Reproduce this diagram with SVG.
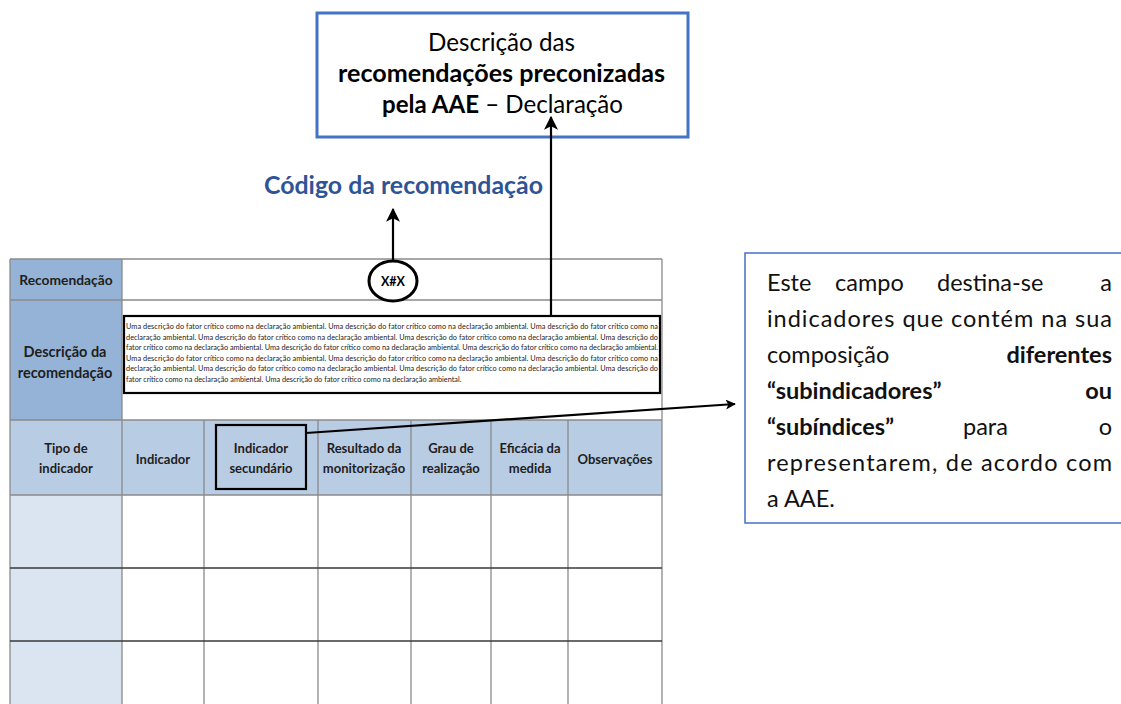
<svg xmlns="http://www.w3.org/2000/svg" width="1121" height="704" viewBox="0 0 1121 704">
<style>
.t{font-family:Lato,"Liberation Sans",sans-serif;fill:#000}
.b{font-weight:bold}
.hd{font-family:Lato,"Liberation Sans",sans-serif;font-weight:bold;font-size:13px;fill:#1e1e1e;text-anchor:middle}
.sm{font-family:Lato,"Liberation Sans",sans-serif;font-size:7.3px;fill:#222}
.grid{stroke:#8a8a8a;stroke-width:1.3;fill:none}
.dk{stroke:#3a3a3a;stroke-width:1.3;fill:none}
.note{font-family:Lato,"Liberation Sans",sans-serif;font-size:23.5px;fill:#111}
.conn{stroke:#000;stroke-width:2.2;fill:none}
</style>
<defs>
<marker id="ah" viewBox="0 0 12 12" refX="11" refY="6" markerWidth="14" markerHeight="14" markerUnits="userSpaceOnUse" orient="auto">
<path d="M0,0 L12,6 L0,12 L3,6 z" fill="#000"/>
</marker>
<marker id="ahs" viewBox="0 0 12 12" refX="11" refY="6" markerWidth="10" markerHeight="10" markerUnits="userSpaceOnUse" orient="auto">
<path d="M0,0 L12,6 L0,12 L3,6 z" fill="#000"/>
</marker>
</defs>
<rect width="1121" height="704" fill="#fff"/>

<g id="table">
<rect x="10" y="259" width="112" height="161" fill="#95B3D7"/>
<rect x="10" y="420" width="652" height="75" fill="#B8CCE4"/>
<rect x="10" y="495" width="112" height="209" fill="#DBE5F1"/>
<path class="grid" d="M10,259 H662 M10,300 H662 M10,420 H662 M10,495 H662 M10,259 V704 M122,259 V704 M662,259 V704 M204,420 V704 M318,420 V704 M411,420 V704 M491,420 V704 M568,420 V704"/>
<path class="dk" d="M10,568 H662 M10,641 H662"/>
<text class="hd" x="66" y="285" style="font-size:13.8px">Recomendação</text>
<text class="hd" x="65" y="357" style="font-size:14.5px">Descrição da</text>
<text class="hd" x="65" y="378" style="font-size:14.5px">recomendação</text>
<text class="hd" x="66" y="453">Tipo de</text>
<text class="hd" x="66" y="473">indicador</text>
<text class="hd" x="163" y="464">Indicador</text>
<text class="hd" x="261" y="453">Indicador</text>
<text class="hd" x="261" y="473">secundário</text>
<text class="hd" x="364" y="453">Resultado da</text>
<text class="hd" x="364" y="473">monitorização</text>
<text class="hd" x="451" y="453">Grau de</text>
<text class="hd" x="451" y="473">realização</text>
<text class="hd" x="530" y="453">Eficácia da</text>
<text class="hd" x="530" y="473">medida</text>
<text class="hd" x="615" y="464">Observações</text>
</g>

<g id="descricao-box">
<rect x="124" y="316" width="536" height="77" fill="#fff" stroke="#000" stroke-width="2.2"/>
<text class="sm" x="126" y="329" textLength="532" lengthAdjust="spacing">Uma descrição do fator crítico como na declaração ambiental. Uma descrição do fator crítico como na declaração ambiental. Uma descrição do fator crítico como na</text>
<text class="sm" x="126" y="339.6" textLength="532" lengthAdjust="spacing">declaração ambiental. Uma descrição do fator crítico como na declaração ambiental. Uma descrição do fator crítico como na declaração ambiental. Uma descrição do</text>
<text class="sm" x="126" y="350.2" textLength="532" lengthAdjust="spacing">fator crítico como na declaração ambiental. Uma descrição do fator crítico como na declaração ambiental. Uma descrição do fator crítico como na declaração ambiental.</text>
<text class="sm" x="126" y="360.8" textLength="532" lengthAdjust="spacing">Uma descrição do fator crítico como na declaração ambiental. Uma descrição do fator crítico como na declaração ambiental. Uma descrição do fator crítico como na</text>
<text class="sm" x="126" y="371.4" textLength="532" lengthAdjust="spacing">declaração ambiental. Uma descrição do fator crítico como na declaração ambiental. Uma descrição do fator crítico como na declaração ambiental. Uma descrição do</text>
<text class="sm" x="126" y="382">fator crítico como na declaração ambiental. Uma descrição do fator crítico como na declaração ambiental.</text>
</g>

<g id="codigo-circulo">
<ellipse cx="393" cy="281" rx="24" ry="20" fill="#fff" stroke="#000" stroke-width="3"/>
<text class="t b" x="393" y="285.5" font-size="12.5" text-anchor="middle">X#X</text>
</g>

<g id="indicador-secundario-box">
<rect x="216" y="425" width="90" height="64" fill="none" stroke="#000" stroke-width="2.2"/>
</g>

<g id="titulo-box">
<rect x="317" y="13" width="371" height="124" fill="#fff" stroke="#4472C4" stroke-width="3"/>
<text class="t" x="428" y="51" font-size="24.5" textLength="147" lengthAdjust="spacingAndGlyphs">Descrição das</text>
<text class="t b" x="338" y="82" font-size="24.5" textLength="327" lengthAdjust="spacingAndGlyphs">recomendações preconizadas</text>
<text class="t" x="382" y="113" font-size="24.5" textLength="241" lengthAdjust="spacingAndGlyphs"><tspan font-weight="bold">pela AAE</tspan> – Declaração</text>
</g>

<g id="codigo-label">
<text class="t b" x="264" y="194" font-size="24" textLength="279" lengthAdjust="spacingAndGlyphs" style="fill:#2F5496">Código da recomendação</text>
</g>

<g id="nota-box">
<rect x="745" y="253" width="390" height="270" fill="#fff" stroke="#4472C4" stroke-width="1.5"/>
<text class="note" y="291"><tspan x="767">Este</tspan><tspan x="835">campo</tspan><tspan x="937">destina-se</tspan><tspan x="1112" text-anchor="end">a</tspan></text>
<text class="note" x="767" y="327" textLength="345" lengthAdjust="spacing">indicadores que contém na sua</text>
<text class="note" x="767" y="363">composição</text>
<text class="note b" x="1112" y="363" text-anchor="end">diferentes</text>
<text class="note b" x="767" y="399">“subindicadores”</text>
<text class="note b" x="1112" y="399" text-anchor="end">ou</text>
<text class="note b" x="767" y="435">“subíndices”</text>
<text class="note" x="963" y="435">para</text>
<text class="note" x="1112" y="435" text-anchor="end">o</text>
<text class="note" x="767" y="471" textLength="345" lengthAdjust="spacing">representarem, de acordo com</text>
<text class="note" x="767" y="507">a AAE.</text>
</g>

<g id="connectors">
<path class="conn" d="M393,261 V209" marker-end="url(#ah)"/>
<path class="conn" d="M551,316 V117" marker-end="url(#ah)"/>
<path class="conn" d="M306,433 L735,404" marker-end="url(#ahs)"/>
</g>
</svg>
